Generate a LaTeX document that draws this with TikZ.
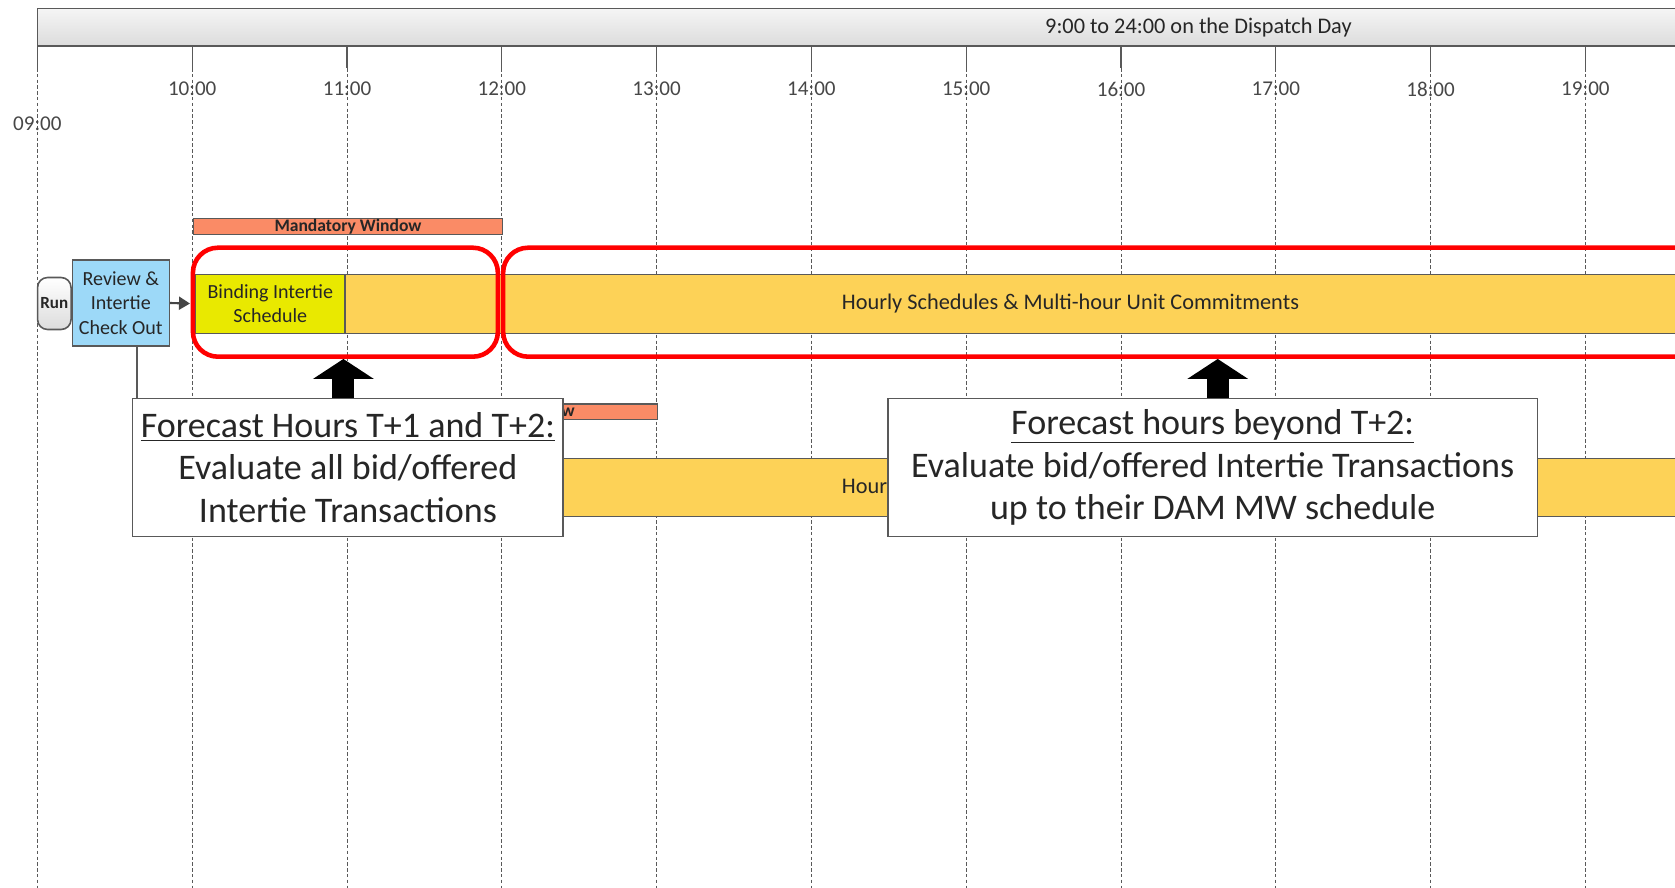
\documentclass[tikz,border=0pt]{standalone}
\usepackage{fontspec}
\setmainfont{Carlito}
\usepackage{xcolor}
\usepackage{tikz}
\usetikzlibrary{arrows.meta,positioning,calc}
\definecolor{frame}{HTML}{595959}
\definecolor{ink}{HTML}{262626}
\definecolor{tickgray}{HTML}{474747}
\definecolor{hdrtop}{HTML}{F5F5F5}
\definecolor{hdrbot}{HTML}{DCDCDC}
\definecolor{mandfill}{HTML}{FA8B66}
\definecolor{revfill}{HTML}{9DD9F8}
\definecolor{bindfill}{HTML}{E9E900}
\definecolor{hourfill}{HTML}{FDD257}
\definecolor{callred}{HTML}{FF0000}
\definecolor{arrowgray}{HTML}{454545}
\tikzset{
  hdrbar/.style={
    rectangle, draw=frame, line width=0.9pt,
    top color=hdrtop, bottom color=hdrbot,
    minimum height=0.75cm, inner sep=0pt,
    font=\fontsize{12.7}{15}\selectfont, text=ink
  },
  winbar/.style={
    rectangle, draw=frame, line width=0.7pt, fill=mandfill,
    minimum height=0.33cm, inner sep=0pt,
    font=\fontsize{10}{12}\selectfont\bfseries, text=ink
  },
  schedbar/.style={
    rectangle, draw=frame, line width=0.7pt, fill=#1,
    minimum height=1.18cm, inner sep=0pt, align=center,
    font=\fontsize{12.7}{15}\selectfont, text=ink
  },
  schedbar/.default=hourfill,
  stepbox/.style={
    rectangle, draw=frame, line width=0.9pt, fill=#1,
    inner sep=0pt, align=center,
    font=\fontsize{11.4}{13.8}\selectfont, text=ink
  },
  stepbox/.default=revfill,
  runbox/.style={
    rectangle, rounded corners=0.2cm, draw=frame, line width=0.9pt,
    top color=white, bottom color=hdrbot,
    minimum width=0.67cm, minimum height=1.04cm, inner sep=0pt,
    font=\fontsize{9.7}{11}\selectfont\bfseries, text=ink
  },
  focusring/.style={
    rectangle, rounded corners=0.5cm, draw=callred, line width=2.6pt,
    minimum height=2.18cm, inner sep=0pt
  },
  callout/.style={
    rectangle, draw=frame, line width=0.9pt, fill=white,
    minimum height=2.76cm, inner sep=0pt, align=center,
    font=\fontsize{20.5}{24.3}\selectfont, text=ink
  },
  hourlabel/.style={text=tickgray, inner sep=0pt, font=\fontsize{12}{14}\selectfont},
  gridline/.style={draw=frame, line width=0.6pt},
  pointer/.style={line width=0.44cm, -{Triangle[length=0.4cm,width=1.2cm]}},
  flowarrow/.style={-{Triangle[length=0.22cm,width=0.26cm]}, line width=1.2pt, draw=arrowgray},
}

\begin{document}
\begin{tikzpicture}[x=0.02cm, y=-0.02cm]
  \useasboundingbox (0,0) rectangle (1675,888);
  \fill[white] (0,0) rectangle (1675,888);
  \clip (0,0) rectangle (1675,888);

  % Hour grid
  \foreach \h [evaluate=\h as \hx using {37.4+154.8*(\h-9)}] in {9,...,19} {
    \coordinate (t\h) at (\hx,46);
    \draw[gridline] (\hx,46) -- (\hx,68);
    \draw[gridline, line width=0.45pt, dash pattern=on 2pt off 1.3pt] (\hx,68) -- (\hx,888);
  }
  \foreach \h in {10,...,19}
    \node[hourlabel] (lab\h) at ([yshift=-0.86cm]t\h) {\h:00};
  \node[hourlabel] (lab9) at ([yshift=-1.56cm]t9) {09:00};

  % Header
  \node[hdrbar, minimum width=46.44cm] (hdr) at (1198.4,27.25) {9:00 to 24:00 on the Dispatch Day};

  % Mandatory windows
  \node[winbar, minimum width=6.19cm] (mand1) at (348,226.5) {Mandatory Window};
  \node[winbar, minimum width=6.25cm, minimum height=0.31cm] (mand2) at (501.2,411.7) {Mandatory Window};

  % Run and check out
  \node[runbox] (run) at (54.3,303.5) {Run};
  \node[stepbox, minimum width=1.94cm, minimum height=1.72cm] (rev) at (120.8,303) {Review \&\\Intertie\\Check Out};

  % Schedules
  \node[schedbar, minimum width=29.02cm] (hour1) at (1070.5,303.7) {Hourly Schedules \& Multi-hour Unit Commitments};
  \node[schedbar=bindfill, minimum width=2.99cm, font=\fontsize{11.4}{13.9}\selectfont] (bind) at (270.3,303.7) {Binding Intertie\\Schedule};
  \node[schedbar, minimum width=29.02cm, minimum height=1.16cm] (hour2) at (1070.5,487.5) {Hourly Schedules \& Multi-hour Unit Commitments};
  \draw[flowarrow, shorten >=0.1cm] (rev.east) -- (bind.west);

  % Red rings
  \node[focusring, minimum width=6.1cm] (ring1) at (345.4,302.2) {};
  \node[focusring, minimum width=25.94cm] (ring2) at (1151.5,302.2) {};

  % Callouts
  \node[callout, minimum width=8.61cm] (co1) at (347.9,467.6)
    {\underline{Forecast Hours T+1 and T+2:}\\Evaluate all bid/offered\\Intertie Transactions};
  \node[callout, minimum width=13.0cm] (co2) at (1212.7,467.6)
    {\underline{Forecast hours beyond T+2:}\\Evaluate bid/offered Intertie Transactions\\up to their DAM MW schedule};
  \draw[draw=frame, line width=0.9pt] ([xshift=0.32cm]rev.south) -- ([xshift=0.32cm]rev.south |- co1.north);
  \draw[pointer] ([xshift=-0.09cm]co1.north) -- ([xshift=-0.09cm]co1.north |- ring1.south);
  \draw[pointer] ([xshift=0.1cm]co2.north) -- ([xshift=0.1cm]co2.north |- ring2.south);
\end{tikzpicture}
\end{document}
